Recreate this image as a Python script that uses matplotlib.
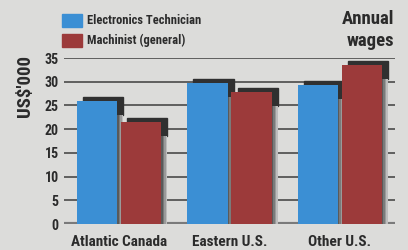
import matplotlib.pyplot as plt
import numpy as np

# data
regions = ['Atlantic Canada', 'Eastern U.S.', 'Other U.S.']
electronics = [26, 29.7, 29.3]
machinist = [21.5, 27.8, 33.5]
series_names = ['Electronics Technician', 'Machinist (general)']
yticks = [0, 5, 10, 15, 20, 25, 30, 35]

blue = '#3b8fd4'
red = '#9c3a3a'
bg = '#dcdcda'
txt = '#2b2b2b'
fam = ['Roboto Condensed', 'Liberation Sans Narrow', 'DejaVu Sans']

fig = plt.figure(figsize=(4.08, 2.5), dpi=100, facecolor=bg)
ax = fig.add_axes([0.157, 0.104, 0.811, 0.664])
ax.set_facecolor(bg)

x = np.arange(len(regions))
w = 0.364
dx = 0.055   # shadow offset right
dy = 0.85    # shadow offset up

# grid lines
for t in yticks[1:]:
    ax.axhline(t, color='#555555', lw=1.3, zorder=1)
ax.axhline(0, color='#7a7a7a', lw=3, zorder=1)

def shadow(xc, h):
    left = xc - w / 2 + dx
    # top dark part
    ax.add_patch(plt.Rectangle((left, h - 3), w, 3 + dy, color='#303030', zorder=2, clip_on=False))
    # gradient strip on the right, lower part
    grays = ['#5a5a5a', '#7a7a7a', '#9a9a9a', '#bdbdbd']
    sw = dx / len(grays)
    for i, g in enumerate(grays):
        ax.add_patch(plt.Rectangle((xc + w / 2 + i * sw, 0), sw, h - 3, color=g, zorder=2, lw=0))

for xi, v in zip(x - 0.2, electronics):
    shadow(xi, v)
for xi, v in zip(x + 0.2, machinist):
    shadow(xi, v)

ax.bar(x - 0.2, electronics, w, color=blue, zorder=3)
ax.bar(x + 0.2, machinist, w, color=red, zorder=3)

ax.set_xlim(-0.5, 2.5)
ax.set_ylim(0, 35)
for s in ax.spines.values():
    s.set_visible(False)
ax.set_yticks(yticks)
ax.set_yticklabels([str(t) for t in yticks], fontfamily=fam, fontweight='bold', fontsize=10, color=txt)
ax.tick_params(axis='y', length=0, pad=4)
ax.set_xticks(x)
ax.set_xticklabels(regions, fontfamily=fam, fontweight='bold', fontsize=11, color=txt)
ax.tick_params(axis='x', length=0, pad=8)

fig.text(0.062, 0.655, "US$'000", rotation=90, ha='center', va='center',
         fontfamily=fam, fontweight='bold', fontsize=13.5, color=txt)
fig.text(0.967, 0.96, 'Annual\nwages', ha='right', va='top', linespacing=1.25,
         fontfamily=fam, fontweight='bold', fontsize=13.5, color=txt)

# legend
for i, (name, c) in enumerate(zip(series_names, [blue, red])):
    ytop = 1 - (14 + i * 20) / 250
    fig.patches.append(plt.Rectangle((62 / 408, ytop - 13 / 250), 20 / 408, 13 / 250,
                                     color=c, transform=fig.transFigure, figure=fig))
    fig.text(87 / 408, ytop - 6.5 / 250, name, ha='left', va='center',
             fontfamily=fam, fontweight='bold', fontsize=9, color=txt)

fig.savefig('out.png', dpi=100, facecolor=bg)
